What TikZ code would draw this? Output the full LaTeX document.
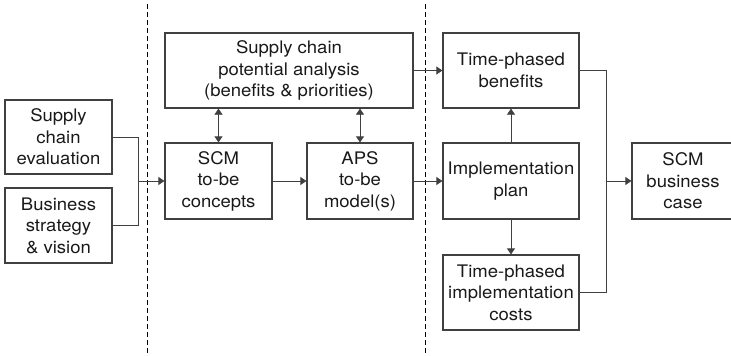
\documentclass[tikz,border=0pt]{standalone}
\usepackage{fontspec}
\setmainfont{TeX Gyre Heros}[FakeStretch=1.07]
\usetikzlibrary{arrows.meta}
\begin{document}
\begin{tikzpicture}[x=1pt,y=-1pt,
  box/.style={draw=black!75,line width=1.2pt,rectangle,inner sep=0pt,align=center,
    text=black!90,font=\fontsize{17.3}{21.5}\selectfont},
  conn/.style={draw=black!75,line width=0.7pt},
  arr/.style={conn,-{Triangle[length=6pt,width=8pt]}},
  darr/.style={conn,{Triangle[length=6pt,width=8pt]}-{Triangle[length=6pt,width=8pt]}},
  sep/.style={draw=black,line width=0.9pt,dash pattern=on 5pt off 3pt}]
\useasboundingbox (0,0) rectangle (731,356);
\node[box,minimum width=107pt,minimum height=74pt] (eval) at (58.5,137) {Supply\\chain\\evaluation};
\node[box,minimum width=107pt,minimum height=75pt] (strat) at (58.5,225.5) {Business\\strategy\\\& vision};
\node[box,minimum width=107pt,minimum height=76pt] (scm) at (218.5,181) {SCM\\to-be\\concepts};
\node[box,minimum width=106pt,minimum height=76pt] (aps) at (360,181) {APS\\to-be\\model(s)};
\node[box,minimum width=248pt,minimum height=75pt] (pot) at (289,70.5) {Supply chain\\potential analysis\\(benefits \& priorities)};
\node[box,minimum width=136pt,minimum height=75pt] (tpb) at (511,70.5) {Time-phased\\benefits};
\node[box,minimum width=136pt,minimum height=76pt] (impl) at (511,181) {Implementation\\plan};
\node[box,minimum width=136pt,minimum height=75pt] (cost) at (511,292.5) {Time-phased\\implementation\\costs};
\node[box,minimum width=102pt,minimum height=76pt] (bc) at (683,181) {SCM\\business\\case};
\coordinate (j1) at (138,181);
\coordinate (j2) at (606,181);
\draw[sep] (147,4) -- (147,356);
\draw[sep] (425,4) -- (425,356);
\draw[conn] (eval.east) -| (j1);
\draw[conn] (strat.east) -| (j1);
\draw[arr] (j1) -- (scm.west);
\draw[arr] (scm.east) -- (aps.west);
\draw[arr] (aps.east) -- (impl.west);
\draw[arr] (pot.east) -- (tpb.west);
\draw[darr] (scm.north) -- (scm.north |- pot.south);
\draw[darr] (aps.north) -- (aps.north |- pot.south);
\draw[arr] (impl.north) -- (tpb.south);
\draw[arr] (impl.south) -- (cost.north);
\draw[conn] (tpb.east) -| (j2);
\draw[conn] (cost.east) -| (j2);
\draw[arr] (j2) -- (bc.west);
\end{tikzpicture}
\end{document}
